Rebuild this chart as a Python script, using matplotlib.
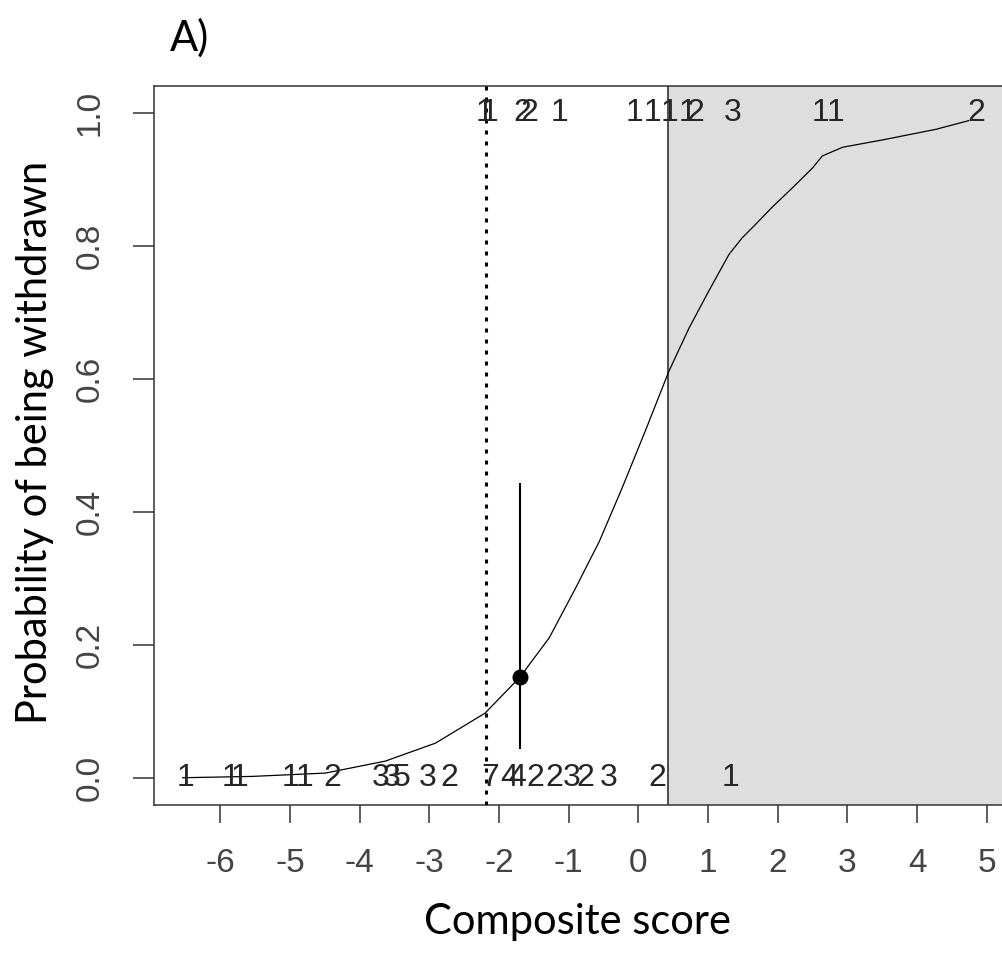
"""
Probability of being withdrawn against composite score (panel A).
Fitted curve, counts at y=0 / y=1, one point with its interval.
"""

import matplotlib
matplotlib.use("Agg")
from matplotlib import pyplot as plt


# Fitted curve
curve_x = [-6.54, -5.54, -4.49, -3.63, -2.91, -2.20, -1.70, -1.28, -0.90,
           -0.56, -0.23, 0.10, 0.44, 0.73, 1.01, 1.30, 1.49, 1.68, 1.92,
           2.21, 2.50, 2.64, 2.93, 3.55, 4.27, 4.74]
curve_y = [0.001, 0.003, 0.008, 0.026, 0.053, 0.098, 0.152, 0.211, 0.286,
           0.356, 0.437, 0.522, 0.612, 0.677, 0.732, 0.787, 0.812, 0.832,
           0.858, 0.887, 0.917, 0.935, 0.948, 0.960, 0.975, 0.988]

# Counts of cases not withdrawn (printed along y = 0)
zero_x = [-6.50, -5.85, -5.72, -4.99, -4.79, -4.39, -3.70, -3.54, -3.39,
          -3.03, -2.71, -2.12, -1.85, -1.74, -1.48, -1.21, -0.95, -0.76,
          -0.42, 0.27, 1.32]
zero_counts = ["1", "1", "1", "1", "1", "2", "3", "3", "5", "3", "2", "7",
               "4", "4", "2", "2", "3", "2", "3", "2", "1"]

# Counts of withdrawn cases (printed along y = 1)
one_x = [-2.21, -2.14, -1.66, -1.56, -1.13, -0.06, 0.20, 0.44, 0.70, 0.82,
         1.35, 2.61, 2.83, 4.85]
one_counts = ["1", "1", "2", "2", "1", "1", "1", "1", "1", "2", "3", "1",
              "1", "2"]

# Cut-off lines and the single estimate with its interval
cutoff_dotted = -2.19
cutoff_shade = 0.43
point_x = -1.70
point_y = 0.152
point_low = 0.044
point_high = 0.444

x_ticks = [-6, -5, -4, -3, -2, -1, 0, 1, 2, 3, 4, 5]
y_ticks = [0.0, 0.2, 0.4, 0.6, 0.8, 1.0]
y_tick_labels = ["0.0", "0.2", "0.4", "0.6", "0.8", "1.0"]


fig = plt.figure(figsize=(10.02, 9.57), dpi=100)
# the plot box runs a little past the right edge of the picture
ax = fig.add_axes([0.1537, 0.1588, 0.852, 0.7513])
ax.set_xlim(-6.95, 5.30)
ax.set_ylim(-0.04, 1.04)

# grey region right of the cut-off
ax.axvspan(cutoff_shade, 6, color="#dedede", zorder=0)
ax.axvline(cutoff_shade, color="#333333", lw=1.2, zorder=1)

ax.plot(curve_x, curve_y, color="black", lw=0.9, zorder=3)

ax.axvline(cutoff_dotted, color="black", lw=2.2,
           linestyle=(0, (1.3, 2.3)), zorder=4)

ax.vlines(point_x, point_low, point_high, color="black", lw=1.5, zorder=4)
ax.plot(point_x, point_y, "o", color="black", ms=10.5, zorder=5)

tick_font = ["Liberation Sans", "DejaVu Sans"]
count_font = ["Liberation Sans Narrow", "Liberation Sans", "DejaVu Sans"]
for x, c in zip(zero_x, zero_counts):
    ax.text(x, 0, c, ha="center", va="center", fontsize=23,
            family=count_font, color="#262626", zorder=6)
for x, c in zip(one_x, one_counts):
    ax.text(x, 1, c, ha="center", va="center", fontsize=23,
            family=count_font, color="#262626", zorder=6)

ax.set_xticks(x_ticks)
ax.set_xticklabels([str(t) for t in x_ticks], family=tick_font,
                   fontsize=24, color="#444444")
ax.set_yticks(y_ticks)
ax.set_yticklabels(y_tick_labels, family=tick_font, fontsize=24,
                   color="#444444", rotation=90, va="center")
ax.tick_params(axis="x", length=13, width=1.1, pad=18, color="#333333")
ax.tick_params(axis="y", length=15, width=1.1, pad=20, color="#333333")
for side in ax.spines.values():
    side.set_color("#333333")
    side.set_linewidth(1.1)

fig.text(35 / 1002, 1 - 442 / 957, "Probability of being withdrawn",
         rotation=90, ha="center", va="center", fontsize=30, family="Lato")
fig.text(578 / 1002, 1 - 922 / 957, "Composite score",
         ha="center", va="center", fontsize=30, family="Lato")
fig.text(190 / 1002, 1 - 38 / 957, "A)",
         ha="center", va="center", fontsize=30, family="Lato")

plt.savefig("out.png", dpi=100)
